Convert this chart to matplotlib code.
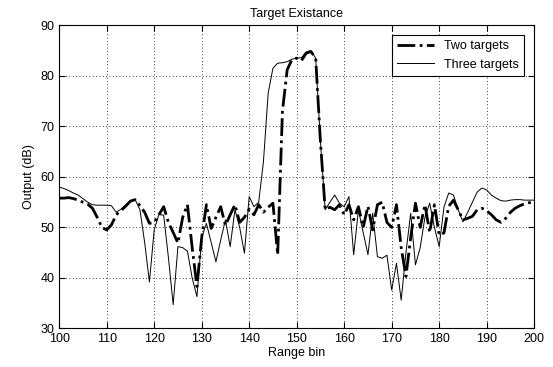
import numpy as np
from matplotlib import pyplot as plt

plt.rcParams['font.family'] = ['Liberation Sans', 'DejaVu Sans']

range_bin = np.arange(100, 201)

two_targets = [
    55.8, 55.8, 55.9, 55.7, 55.4, 55.0, 54.6, 53.8, 52.0, 50.0,   # 100-109
    49.5, 50.5, 52.5, 53.3, 54.2, 55.2, 55.5, 54.3, 53.0, 50.8,   # 110-119
    51.0, 52.5, 54.1, 51.0, 49.0, 46.9, 52.0, 54.5, 46.0, 38.3,   # 120-129
    48.0, 54.5, 49.8, 52.0, 54.1, 50.4, 52.5, 54.5, 51.0, 52.0,   # 130-139
    53.6, 52.5, 54.5, 53.0, 54.0, 54.8, 44.6, 73.0, 81.2, 83.2,   # 140-149
    83.5, 83.0, 84.5, 84.8, 83.5, 67.0, 53.5, 54.0, 53.5, 54.5,   # 150-159
    52.5, 54.5, 51.5, 54.1, 50.0, 54.2, 49.5, 54.5, 55.0, 51.0,   # 160-169
    50.0, 54.5, 46.0, 40.3, 48.0, 54.8, 50.0, 54.5, 49.0, 54.5,   # 170-179
    48.5, 48.9, 54.2, 55.4, 53.5, 51.5, 51.8, 52.2, 53.5, 53.8,   # 180-189
    53.3, 52.5, 51.5, 51.0, 51.8, 53.0, 53.8, 54.3, 54.7, 54.9,   # 190-199
    55.0,
]

three_targets = [
    58.0, 57.7, 57.3, 56.8, 56.4, 55.7, 55.0, 54.5, 54.4, 54.4,   # 100-109
    54.4, 54.3, 53.0, 53.6, 54.5, 55.3, 55.5, 53.5, 47.0, 39.2,   # 110-119
    49.5, 52.6, 52.4, 44.0, 34.7, 46.2, 46.0, 45.3, 40.0, 36.3,   # 120-129
    48.0, 50.8, 47.0, 43.2, 47.5, 51.5, 46.2, 53.5, 50.0, 44.9,   # 130-139
    56.1, 54.1, 55.0, 63.0, 76.6, 81.5, 82.5, 82.6, 82.8, 83.3,   # 140-149
    83.5, 83.6, 84.7, 85.0, 83.5, 67.0, 53.5, 55.0, 56.4, 54.8,   # 150-159
    54.1, 56.1, 44.6, 53.5, 49.0, 44.6, 52.8, 44.2, 43.9, 44.5,   # 160-169
    37.6, 42.9, 35.6, 45.0, 52.8, 42.6, 46.0, 52.0, 54.8, 50.0,   # 170-179
    46.2, 54.0, 56.8, 56.4, 53.5, 51.1, 53.0, 55.0, 57.0, 57.8,   # 180-189
    57.4, 56.4, 55.8, 55.3, 55.2, 55.4, 55.5, 55.5, 55.4, 55.4,   # 190-199
    55.4,
]

fig = plt.figure(figsize=(5.53, 3.67), dpi=100)
ax = fig.add_axes([0.107, 0.105, 0.859, 0.826])

ax.plot(range_bin, two_targets, color='black', linestyle='-.', linewidth=2,
        label='Two targets')
ax.plot(range_bin, three_targets, color='black', linestyle='-', linewidth=0.7,
        label='Three targets')

ax.set_xlim(100, 200)
ax.set_ylim(30, 90)
ax.set_xticks(np.arange(100, 201, 10))
ax.set_yticks(np.arange(30, 91, 10))
ax.grid(True, color='black', linestyle=(0, (1, 3)), linewidth=0.6)
ax.tick_params(direction='in', top=True, right=True, length=4, labelsize=9)

ax.set_title('Target Existance', fontsize=9)
ax.set_xlabel('Range bin', fontsize=9, labelpad=1)
ax.set_ylabel('Output (dB)', fontsize=9)

leg = ax.legend(loc='upper right', fontsize=9, fancybox=False, framealpha=1,
                handlelength=3, borderaxespad=0.8)
leg.get_frame().set_edgecolor('black')
leg.get_frame().set_linewidth(0.8)

plt.savefig('out.png', dpi=100)
